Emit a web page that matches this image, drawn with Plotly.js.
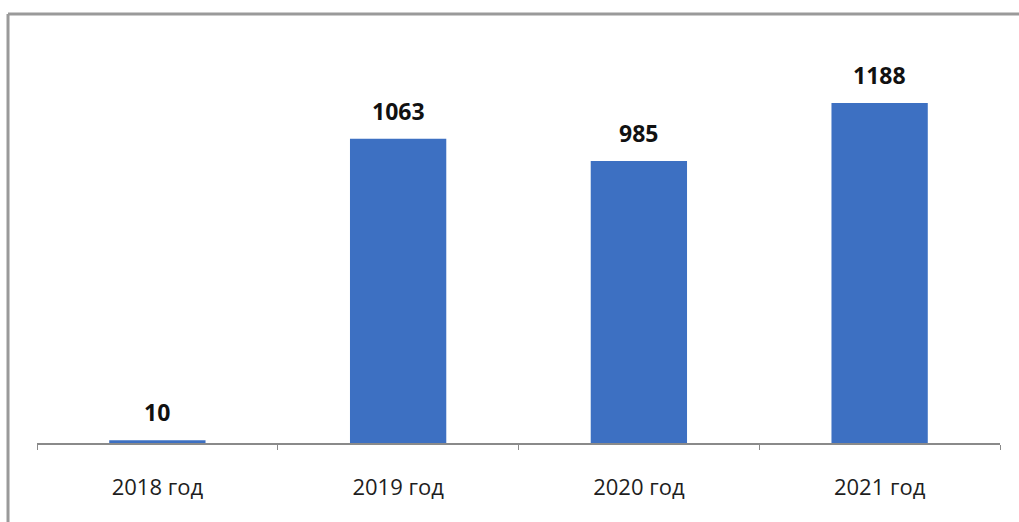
<!DOCTYPE html>
<html><head><meta charset="utf-8">
<script src="https://cdn.plot.ly/plotly-3.0.1.min.js"></script>
<style>html,body{margin:0;padding:0;background:#fff;}#chart{width:1019px;height:522px;}</style>
</head><body><div id="chart"></div>
<script>
const categories = ["2018 год", "2019 год", "2020 год", "2021 год"];
const values = [10, 1063, 985, 1188];

const barColor = "#3d70c2";
const trace = {
  type: "bar",
  x: categories,
  y: values,
  marker: {color: barColor},
  width: 0.4,
  hoverinfo: "skip"
};

const annotations = categories.map((c, i) => ({
  x: c, y: values[i], xref: "x", yref: "y",
  text: "<b>" + values[i] + "</b>",
  showarrow: false, yanchor: "bottom", yshift: 10,
  font: {family: "Open Sans, Liberation Sans, sans-serif", size: 23, color: "#111"}
}));

const frameColor = "#9a9a9a";
const layout = {
  width: 1019, height: 522,
  margin: {l: 37, r: 19, t: 20, b: 79},
  paper_bgcolor: "#fff", plot_bgcolor: "#fff",
  showlegend: false,
  xaxis: {
    type: "category",
    showline: true, linecolor: "#8a8a8a", linewidth: 1.5,
    ticks: "outside", tickson: "boundaries", ticklen: 5, tickcolor: "#8a8a8a", tickwidth: 1,
    showgrid: false, zeroline: false,
    tickfont: {family: "Open Sans, Liberation Sans, sans-serif", size: 22, color: "#1e1e1e"},
    ticklabelstandoff: 24
  },
  yaxis: {
    range: [0, 1478], visible: false, showgrid: false, zeroline: false, fixedrange: true
  },
  annotations: annotations,
  shapes: [
    {type: "line", xref: "paper", yref: "paper", x0: -0.0301, x1: 1.03, y0: 1.0142, y1: 1.0142,
     line: {color: frameColor, width: 3}},
    {type: "line", xref: "paper", yref: "paper", x0: -0.0301, x1: -0.0301, y0: 1.0142, y1: -0.2,
     line: {color: frameColor, width: 3}}
  ]
};

Plotly.newPlot("chart", [trace], layout, {displayModeBar: false, staticPlot: true});
</script></body></html>
